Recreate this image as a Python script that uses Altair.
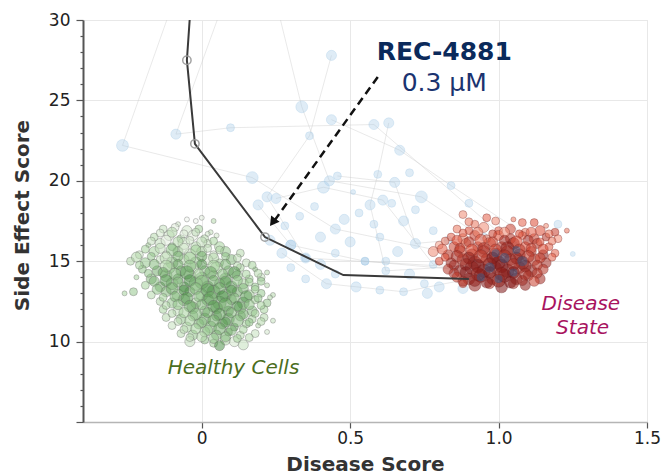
import altair as alt
import pandas as pd

# ---------------- data ----------------
# Healthy cells cluster (green)
healthy_x = [-0.05, -0.02, 0.00, 0.04, -0.08,
             -0.13, -0.09, -0.05, -0.01, 0.03,
             -0.16, -0.11, -0.07, -0.03, 0.01, 0.05,
             -0.18, -0.14, -0.10, -0.06, -0.02, 0.02, 0.06,
             -0.21, -0.16, -0.12, -0.08, -0.04, 0.00, 0.04, 0.08, 0.13,
             -0.24, -0.19, -0.14, -0.10, -0.06, -0.02, 0.02, 0.06, 0.10, 0.15,
             -0.20, -0.15, -0.11, -0.07, -0.03, 0.01, 0.05, 0.09, 0.13, 0.18, 0.22,
             -0.22, -0.17, -0.12, -0.08, -0.04, 0.00, 0.04, 0.08, 0.12, 0.16, 0.20,
             -0.19, -0.14, -0.10, -0.06, -0.02, 0.02, 0.06, 0.10, 0.14, 0.18, 0.22,
             -0.26, -0.23, -0.17, -0.12, -0.08, -0.04, 0.00, 0.04, 0.08, 0.12, 0.16, 0.20, 0.24,
             -0.14, -0.10, -0.06, -0.02, 0.02, 0.06, 0.10, 0.14, 0.18, 0.22,
             -0.13, -0.08, -0.03, 0.01, 0.05, 0.09, 0.13, 0.17, 0.21,
             -0.12, -0.07, -0.03, 0.01, 0.05, 0.09, 0.13, 0.17, 0.21, 0.24,
             -0.10, -0.05, -0.01, 0.03, 0.07, 0.11, 0.15, 0.19,
             -0.07, -0.03, 0.01, 0.05, 0.09, 0.13, 0.18, 0.22,
             -0.04, 0.01, 0.04, 0.08, 0.11, 0.06, 0.14,
             -0.14, -0.10, -0.06, -0.02, 0.02,
             -0.17, -0.12, -0.08, -0.04, 0.00, 0.04,
             -0.19, -0.14, -0.10, -0.06, -0.02, 0.02, 0.06,
             -0.22, -0.17, -0.12, -0.08, -0.04, 0.00, 0.04, 0.08, 0.12,
             -0.21, -0.16, -0.12, -0.08, -0.04, 0.00, 0.04, 0.08, 0.12, 0.17,
             -0.18, -0.13, -0.09, -0.05, -0.01, 0.03, 0.07, 0.11, 0.15, 0.19,
             -0.16, -0.12, -0.08, -0.04, 0.00, 0.04, 0.08, 0.12, 0.16, 0.20,
             -0.15, -0.10, -0.06, -0.02, 0.02, 0.06, 0.10, 0.14, 0.18,
             -0.13, -0.09, -0.05, -0.01, 0.03, 0.07, 0.11, 0.15, 0.19, 0.23,
             -0.12, -0.08, -0.04, 0.00, 0.04, 0.08, 0.12, 0.16, 0.20,
             -0.10, -0.06, -0.02, 0.02, 0.06, 0.10, 0.14, 0.18,
             -0.08, -0.04, 0.00, 0.04, 0.08, 0.12, 0.16, 0.20,
             -0.06, -0.02, 0.02, 0.06, 0.10, 0.14,
             -0.04, 0.00, 0.04, 0.08, 0.12, 0.16]
healthy_y = [17.6, 17.5, 17.7, 17.5, 17.3,
             17.0, 17.1, 16.9, 17.0, 16.8,
             16.5, 16.6, 16.4, 16.6, 16.4, 16.6,
             16.0, 16.1, 15.9, 16.1, 15.9, 16.1, 15.9,
             15.4, 15.6, 15.4, 15.6, 15.4, 15.6, 15.4, 15.6, 15.5,
             15.0, 14.9, 15.1, 14.9, 15.1, 14.9, 15.1, 14.9, 15.1, 14.9,
             14.5, 14.4, 14.6, 14.4, 14.6, 14.4, 14.6, 14.4, 14.6, 14.5, 14.3,
             14.0, 13.9, 14.1, 13.9, 14.1, 13.9, 14.1, 13.9, 14.1, 13.9, 14.0,
             13.5, 13.4, 13.6, 13.4, 13.6, 13.4, 13.6, 13.4, 13.6, 13.4, 13.5,
             13.0, 13.1, 12.9, 13.1, 12.9, 13.1, 12.9, 13.1, 12.9, 13.1, 12.9, 13.0, 12.9,
             12.5, 12.4, 12.6, 12.4, 12.6, 12.4, 12.6, 12.4, 12.6, 12.4,
             12.0, 11.9, 12.1, 11.9, 12.1, 11.9, 12.1, 11.9, 12.0,
             11.5, 11.4, 11.6, 11.4, 11.6, 11.4, 11.6, 11.4, 11.5, 11.3,
             11.0, 10.9, 11.1, 10.9, 11.1, 10.9, 11.1, 11.0,
             10.5, 10.4, 10.6, 10.4, 10.6, 10.4, 10.5, 10.6,
             10.0, 10.1, 9.9, 10.1, 10.0, 9.75, 9.8,
             16.75, 16.8, 16.7, 16.8, 16.7,
             16.25, 16.3, 16.2, 16.3, 16.2, 16.25,
             15.75, 15.8, 15.7, 15.8, 15.7, 15.8, 15.7,
             15.25, 15.3, 15.2, 15.3, 15.2, 15.3, 15.2, 15.3, 15.2,
             14.75, 14.8, 14.7, 14.8, 14.7, 14.8, 14.7, 14.8, 14.7, 14.75,
             14.25, 14.3, 14.2, 14.3, 14.2, 14.3, 14.2, 14.3, 14.2, 14.25,
             13.75, 13.8, 13.7, 13.8, 13.7, 13.8, 13.7, 13.8, 13.7, 13.75,
             13.25, 13.3, 13.2, 13.3, 13.2, 13.3, 13.2, 13.3, 13.25,
             12.75, 12.8, 12.7, 12.8, 12.7, 12.8, 12.7, 12.8, 12.7, 12.75,
             12.25, 12.3, 12.2, 12.3, 12.2, 12.3, 12.2, 12.3, 12.25,
             11.75, 11.8, 11.7, 11.8, 11.7, 11.8, 11.7, 11.75,
             11.25, 11.3, 11.2, 11.3, 11.2, 11.3, 11.2, 11.25,
             10.75, 10.8, 10.7, 10.8, 10.7, 10.75,
             10.25, 10.3, 10.2, 10.3, 10.2, 10.25]
healthy_w = [1, 1, 1, 1, 1,
             2, 2, 3, 2, 1,
             2, 3, 2, 3, 2, 1,
             1, 3, 2, 4, 3, 2, 3,
             2, 3, 2, 3, 4, 3, 2, 3, 2,
             2, 3, 2, 4, 3, 4, 3, 2, 3, 2,
             2, 3, 4, 3, 4, 3, 4, 3, 2, 1, 1,
             1, 3, 4, 3, 4, 5, 3, 4, 3, 2, 2,
             2, 3, 4, 3, 5, 4, 3, 4, 3, 2, 1,
             1, 2, 2, 3, 4, 3, 4, 5, 4, 3, 3, 2, 1,
             2, 3, 4, 3, 4, 5, 3, 4, 2, 2,
             2, 3, 4, 3, 4, 3, 4, 3, 2,
             2, 3, 3, 4, 3, 4, 3, 2, 2, 1,
             2, 3, 3, 4, 3, 2, 2, 1,
             2, 3, 3, 3, 2, 2, 2, 1,
             3, 2, 2, 3, 3, 3, 3,
             2, 3, 2, 2, 1,
             2, 3, 3, 2, 3, 2,
             2, 3, 4, 3, 3, 2, 2,
             3, 2, 4, 3, 4, 3, 3, 2, 2,
             2, 3, 4, 3, 4, 3, 4, 3, 2, 2,
             2, 3, 4, 5, 3, 4, 3, 4, 2, 2,
             3, 4, 3, 4, 5, 3, 4, 3, 2, 2,
             3, 4, 3, 4, 5, 4, 3, 3, 2,
             2, 3, 4, 3, 5, 4, 3, 4, 2, 1,
             2, 3, 4, 3, 4, 5, 3, 3, 2,
             2, 3, 4, 3, 4, 3, 3, 2,
             2, 3, 3, 4, 3, 4, 2, 2,
             2, 3, 3, 4, 3, 2,
             2, 3, 3, 3, 2, 2]
healthy_lvl = [0.0, 0.0, 0.1, 0.4, 0.2,
               0.3, 0.1, 0.2, 0.5, 0.3,
               0.4, 0.2, 0.5, 0.1, 0.4, 0.2,
               0.5, 0.3, 0.6, 0.2, 0.4, 0.3, 0.5,
               0.3, 0.5, 0.2, 0.7, 0.3, 0.5, 0.2, 0.6, 0.4,
               0.4, 0.6, 0.3, 0.7, 0.4, 0.6, 0.2, 0.5, 0.7, 0.3,
               0.6, 0.8, 0.5, 0.8, 0.3, 0.6, 0.4, 0.7, 0.5, 0.6, 0.4,
               0.5, 0.7, 0.6, 0.9, 0.4, 0.7, 0.5, 0.8, 0.6, 0.5, 0.3,
               0.5, 0.8, 0.6, 0.9, 0.5, 0.8, 0.6, 0.9, 0.5, 0.6, 0.4,
               0.5, 0.6, 0.4, 0.7, 0.5, 0.8, 0.6, 0.9, 0.7, 0.8, 0.5, 0.6, 0.4,
               0.4, 0.6, 0.8, 0.5, 0.9, 0.7, 0.8, 0.9, 0.5, 0.6,
               0.5, 0.3, 0.7, 0.6, 0.8, 0.9, 0.6, 0.7, 0.5,
               0.4, 0.6, 0.5, 0.8, 0.7, 0.9, 0.6, 0.5, 0.4, 0.3,
               0.3, 0.5, 0.7, 0.6, 0.8, 0.9, 0.5, 0.4,
               0.4, 0.6, 0.5, 0.7, 0.8, 0.4, 0.3, 0.2,
               0.3, 0.6, 0.5, 0.4, 0.2, 1.0, 0.3,
               0.2, 0.4, 0.1, 0.3, 0.2,
               0.3, 0.1, 0.4, 0.2, 0.3, 0.5,
               0.5, 0.3, 0.6, 0.2, 0.5, 0.3, 0.4,
               0.4, 0.6, 0.3, 0.7, 0.5, 0.8, 0.4, 0.6, 0.3,
               0.5, 0.7, 0.4, 0.8, 0.6, 0.9, 0.5, 0.7, 0.4, 0.5,
               0.6, 0.8, 0.7, 0.9, 0.5, 0.8, 0.6, 0.9, 0.5, 0.4,
               0.7, 0.9, 0.6, 1.0, 0.7, 0.8, 0.9, 0.6, 0.5, 0.6,
               0.6, 0.8, 1.0, 0.7, 0.9, 0.8, 0.9, 0.7, 0.5,
               0.5, 0.7, 0.9, 0.6, 0.8, 1.0, 0.7, 0.9, 0.6, 0.4,
               0.4, 0.6, 0.8, 0.7, 0.9, 0.8, 1.0, 0.6, 0.5,
               0.4, 0.5, 0.7, 0.8, 0.9, 0.7, 0.8, 0.5,
               0.3, 0.5, 0.6, 0.8, 0.9, 0.7, 0.6, 0.4,
               0.3, 0.5, 0.6, 0.8, 0.7, 0.5,
               0.3, 0.4, 0.6, 0.7, 0.5, 0.4]

# Disease state cluster (red)
disease_x = [0.88, 0.96, 1.05, 1.12, 1.16, 0.92,
             0.86, 0.90, 0.95, 1.00, 1.04, 1.09, 1.14, 1.19, 1.23,
             0.84, 0.88, 0.92, 0.96, 1.00, 1.04, 1.08, 1.12, 1.16, 1.20,
             0.80, 0.85, 0.89, 0.93, 0.97, 1.01, 1.05, 1.09, 1.13, 1.17,
             0.78, 0.83, 0.87, 0.91, 0.95, 0.99, 1.03, 1.07, 1.11, 1.15, 1.19,
             0.80, 0.84, 0.88, 0.92, 0.96, 1.00, 1.04, 1.08, 1.12, 1.16,
             0.83, 0.87, 0.91, 0.95, 0.99, 1.03, 1.07, 1.11, 1.15,
             0.86, 0.90, 0.94, 0.98, 1.02, 1.06, 1.10, 1.14,
             0.92, 0.97, 1.01, 1.05, 1.09, 0.88,
             0.90, 0.99, 1.08,
             0.88, 0.93, 0.98, 1.02, 1.07, 1.11, 1.17,
             0.82, 0.86, 0.90, 0.94, 0.98, 1.02, 1.06, 1.10, 1.14, 1.18,
             0.81, 0.87, 0.91, 0.95, 0.99, 1.03, 1.07, 1.11, 1.15,
             0.82, 0.86, 0.90, 0.94, 0.98, 1.02, 1.06, 1.10, 1.14, 1.18,
             0.85, 0.89, 0.93, 0.97, 1.01, 1.05, 1.09, 1.13,
             0.85, 0.89, 0.93, 0.97, 1.01, 1.05, 1.09, 1.13,
             0.88, 0.92, 0.96, 1.00, 1.04, 1.08, 1.12]
disease_y = [17.9, 17.7, 17.6, 17.4, 17.2, 17.3,
             17.0, 16.9, 17.1, 16.9, 17.0, 16.8, 16.9, 16.8, 16.9,
             16.5, 16.4, 16.6, 16.4, 16.6, 16.4, 16.6, 16.4, 16.5, 16.4,
             16.0, 15.9, 16.1, 15.9, 16.1, 15.9, 16.1, 15.9, 16.1, 15.9,
             15.6, 15.4, 15.6, 15.4, 15.6, 15.4, 15.6, 15.4, 15.6, 15.4, 15.5,
             15.0, 14.9, 15.1, 14.9, 15.1, 14.9, 15.1, 14.9, 15.1, 14.9,
             14.5, 14.4, 14.6, 14.4, 14.6, 14.4, 14.6, 14.4, 14.5,
             14.0, 13.9, 14.1, 13.9, 14.1, 13.9, 14.1, 13.9,
             13.5, 13.6, 13.4, 13.6, 13.5, 13.6,
             17.45, 17.5, 17.4,
             16.75, 16.8, 16.7, 16.8, 16.7, 16.8, 16.7,
             16.25, 16.3, 16.2, 16.3, 16.2, 16.3, 16.2, 16.3, 16.2, 16.25,
             15.75, 15.8, 15.7, 15.8, 15.7, 15.8, 15.7, 15.8, 15.75,
             15.25, 15.3, 15.2, 15.3, 15.2, 15.3, 15.2, 15.3, 15.2, 15.25,
             14.75, 14.8, 14.7, 14.8, 14.7, 14.8, 14.7, 14.75,
             14.25, 14.3, 14.2, 14.3, 14.2, 14.3, 14.2, 14.25,
             13.75, 13.8, 13.7, 13.8, 13.7, 13.8, 13.75]
disease_w = [2, 2, 1, 2, 1, 2,
             2, 2, 3, 2, 3, 2, 3, 2, 1,
             2, 3, 3, 2, 3, 3, 2, 3, 2, 2,
             2, 3, 3, 3, 4, 3, 4, 3, 3, 2,
             3, 3, 4, 4, 4, 5, 4, 4, 3, 3, 2,
             2, 3, 4, 5, 4, 5, 4, 5, 4, 3,
             3, 4, 5, 5, 4, 5, 4, 4, 3,
             3, 4, 5, 4, 5, 4, 3, 3,
             4, 3, 4, 3, 3, 2,
             2, 2, 2,
             2, 3, 2, 3, 2, 3, 2,
             2, 3, 3, 4, 3, 3, 4, 3, 2, 2,
             3, 3, 4, 4, 4, 5, 4, 3, 3,
             2, 4, 4, 5, 4, 5, 4, 4, 3, 2,
             3, 4, 5, 5, 5, 4, 4, 3,
             3, 4, 5, 4, 5, 4, 4, 3,
             3, 4, 4, 5, 4, 3, 3]
disease_lvl = [0.2, 0.4, 0.3, 0.5, 0.2, 0.3,
               0.3, 0.5, 0.2, 0.4, 0.6, 0.3, 0.5, 0.6, 0.3,
               0.4, 0.2, 0.6, 0.3, 0.5, 0.7, 0.4, 0.6, 0.7, 0.2,
               0.1, 0.6, 0.3, 0.7, 0.4, 0.6, 0.8, 0.5, 0.7, 0.4,
               0.2, 0.7, 0.5, 0.8, 0.6, 0.9, 0.7, 0.8, 0.6, 0.9, 0.4,
               0.5, 0.8, 0.6, 0.9, 0.7, 1.0, 0.8, 0.9, 0.7, 0.8,
               0.7, 0.9, 0.8, 1.0, 0.9, 1.0, 0.8, 0.9, 0.7,
               0.6, 0.9, 1.0, 0.8, 1.0, 0.9, 0.7, 0.8,
               0.9, 0.7, 1.0, 0.8, 0.9, 0.5,
               0.3, 0.2, 0.4,
               0.4, 0.3, 0.6, 0.2, 0.5, 0.4, 0.3,
               0.3, 0.5, 0.7, 0.4, 0.6, 0.8, 0.5, 0.7, 0.4, 0.3,
               0.4, 0.7, 0.5, 0.8, 0.6, 0.9, 0.7, 0.6, 0.5,
               0.5, 0.8, 0.9, 0.7, 1.0, 0.8, 0.9, 0.7, 0.6, 0.4,
               0.8, 0.9, 1.0, 0.9, 1.0, 0.8, 0.9, 0.7,
               0.7, 1.0, 0.9, 1.0, 0.9, 1.0, 0.8, 0.7,
               0.8, 0.9, 1.0, 0.9, 1.0, 0.8, 0.6]

# Treated cells sitting inside the disease cluster (dark blue)
treated_x = [0.97, 1.02, 1.05, 0.94, 1.08, 1.00, 0.99, 1.06]
treated_y = [14.6, 15.2, 14.3, 14.0, 15.0, 13.9, 15.5, 15.7]
treated_w = [3, 3, 2, 2, 3, 2, 2, 2]

# Faint dose trajectories (light blue nodes joined by grey lines)
traj_id = [1] * 5 + [2] * 5 + [3] * 5 + [4] * 5 + [5] * 4 + [6] * 5 + [7] * 4 + [8] * 5 + [9] * 4 + [10] * 4
traj_x = [-0.11, -0.267, 0.17, 0.45, 0.92,
          0.06, -0.087, 0.097, 0.58, 1.05,
          0.26, 0.337, 0.43, 0.74, 1.00,
          0.437, 0.363, 0.22, 0.35, 0.90,
          0.437, 0.667, 0.84, 1.10,
          0.63, 0.593, 0.567, 0.62, 0.98,
          0.19, 0.30, 0.55, 0.85,
          0.25, 0.41, 0.61, 0.78, 1.02,
          0.457, 0.65, 0.72, 0.95,
          0.27, 0.42, 0.68, 0.93]
traj_y = [30.4, 22.2, 20.2, 17.0, 15.2,
          30.4, 22.9, 23.3, 23.5, 16.0,
          30.4, 24.6, 20.0, 19.0, 15.8,
          27.8, 22.8, 19.0, 15.2, 14.6,
          23.8, 21.9, 19.7, 16.5,
          23.6, 20.4, 18.5, 14.4, 14.8,
          18.5, 16.0, 15.0, 14.5,
          18.9, 19.6, 18.8, 14.8, 15.0,
          20.3, 19.9, 16.1, 16.5,
          15.5, 13.6, 13.1, 14.0]
traj_w = [1, 4, 4, 3, 2,
          1, 3, 2, 3, 2,
          1, 4, 3, 4, 2,
          3, 2, 3, 3, 2,
          3, 3, 2, 2,
          3, 2, 3, 2, 2,
          3, 3, 2, 2,
          3, 4, 3, 2, 2,
          2, 3, 3, 2,
          3, 3, 2, 2]

# Loose light-blue cells
loose_x = [0.30, 0.35, 0.40, 0.45, 0.50, 0.55, 0.60, 0.66, 0.70, 0.75, 0.80, 0.83, 0.85, 0.88,
           0.30, 0.35, 0.52, 0.60, 0.76, 0.23, 0.28, 0.33, 0.38, 0.48, 0.53, 0.58, 0.68, 0.72,
           0.64, 0.70, 0.51, 1.25, 1.20, 0.78, 0.90, 0.62, 0.45, 0.40]
loose_y = [16.0, 15.2, 16.5, 15.5, 16.2, 15.0, 16.5, 15.6, 14.2, 13.6, 13.4, 16.3, 14.3, 13.3,
           14.6, 13.9, 13.4, 13.2, 13.0, 16.3, 17.2, 17.8, 18.4, 17.6, 18.0, 17.3, 17.5, 18.2,
           18.6, 20.5, 19.3, 15.45, 17.3, 16.9, 18.6, 15.0, 14.2, 14.8]
loose_w = [3, 2, 3, 2, 3, 2, 2, 3, 3, 2, 3, 2, 2, 3,
           2, 2, 3, 2, 3, 3, 2, 2, 2, 3, 2, 2, 3, 2,
           2, 2, 1, 1, 2, 2, 2, 2, 2, 3]

# REC-4881 dose-response path (dark line)
path_x = [-0.037, -0.05, -0.023, 0.213, 0.477, 0.90]
path_y = [31.0, 27.5, 22.3, 16.5, 14.14, 13.9]
node_x = [-0.05, -0.023, 0.213]
node_y = [27.5, 22.3, 16.5]

# Annotations (data units)
arrow_x = [0.593, 0.246]
arrow_y = [26.46, 17.55]
arrowhead_x = [0.242]
arrowhead_y = [17.50]
compound_name = ["REC-4881"]
compound_dose = ["0.3 µM"]
compound_x = [0.817]
compound_name_y = [28.0]
compound_dose_y = [26.1]
healthy_label = ["Healthy Cells"]
healthy_label_x = [0.107]
healthy_label_y = [8.36]
disease_label = ["Disease", "State"]
disease_label_x = [1.277, 1.283]
disease_label_y = [12.34, 10.85]

x_ticks = [0, 0.5, 1.0, 1.5]
y_ticks = list(range(5, 31))

# ---------------- chart ----------------
FONT = "DejaVu Sans"

def X():
    return alt.X("x:Q",
                 scale=alt.Scale(domain=[-0.4, 1.5], nice=False, zero=False),
                 axis=alt.Axis(values=x_ticks, title="Disease Score",
                               labelExpr="datum.value == 0 ? '0' : format(datum.value, '.1f')",
                               grid=True, gridColor="#e8e8e8", gridWidth=1,
                               domainColor="#b5b5b5", domainWidth=1.5,
                               tickColor="#555555", tickSize=6, tickWidth=1.2,
                               labelFont=FONT, labelFontSize=17, labelColor="#222222",
                               labelPadding=2, labelFlush=False,
                               titleFont=FONT, titleFontSize=20, titleFontWeight="bold",
                               titleColor="#333333", titlePadding=8))

def Y():
    return alt.Y("y:Q",
                 scale=alt.Scale(domain=[5, 30], nice=False, zero=False),
                 axis=alt.Axis(values=y_ticks, title="Side Effect Score",
                               labelExpr="datum.value % 5 === 0 && datum.value > 5 ? datum.label : ''",
                               grid=True, gridColor="#e8e8e8", gridWidth=1,
                               gridOpacity={"condition": {"test": "datum.value % 5 === 0 && datum.value > 5", "value": 1}, "value": 0},
                               domainColor="#555555", domainWidth=2,
                               tickColor="#555555", tickWidth=1.2,
                               tickSize={"condition": {"test": "datum.value % 5 === 0", "value": 7}, "value": 3},
                               labelFont=FONT, labelFontSize=17, labelColor="#222222",
                               labelPadding=6, labelFlush=False,
                               titleFont=FONT, titleFontSize=20, titleFontWeight="bold",
                               titleColor="#333333", titlePadding=16, titleY=195))

size_scale = alt.Scale(domain=[1, 5], range=[25, 180])

traj_df = pd.DataFrame({"x": traj_x, "y": traj_y, "traj": traj_id,
                        "step": list(range(len(traj_x))), "w": traj_w})
loose_df = pd.DataFrame({"x": loose_x, "y": loose_y, "w": loose_w})
blue_df = pd.concat([traj_df[["x", "y", "w"]], loose_df], ignore_index=True)
healthy_df = pd.DataFrame({"x": healthy_x, "y": healthy_y, "w": healthy_w, "h_lvl": healthy_lvl})
disease_df = pd.DataFrame({"x": disease_x, "y": disease_y, "w": disease_w, "d_lvl": disease_lvl})
treated_df = pd.DataFrame({"x": treated_x, "y": treated_y, "w": treated_w})
path_df = pd.DataFrame({"x": path_x, "y": path_y, "step": list(range(len(path_x)))})
node_df = pd.DataFrame({"x": node_x, "y": node_y})
arrow_df = pd.DataFrame({"x": arrow_x, "y": arrow_y, "step": [0, 1]})
head_df = pd.DataFrame({"x": arrowhead_x, "y": arrowhead_y})

traj_lines = alt.Chart(traj_df).mark_line(color="#c8c8c8", strokeWidth=1, opacity=0.4, clip=True).encode(
    x=X(), y=Y(), detail="traj:N", order="step:Q")

blue_pts = alt.Chart(blue_df).mark_circle(color="#a3c8e6", fillOpacity=0.35, stroke="#a3c8e6",
                                          strokeOpacity=0.4, strokeWidth=0.8, clip=True).encode(
    x=X(), y=Y(), size=alt.Size("w:Q", scale=size_scale, legend=None))

healthy_pts = alt.Chart(healthy_df).mark_circle(fillOpacity=0.5, stroke="#666666", strokeOpacity=0.45,
                                                strokeWidth=0.8, clip=True).encode(
    x=X(), y=Y(), size=alt.Size("w:Q", scale=size_scale, legend=None),
    color=alt.Color("h_lvl:Q", scale=alt.Scale(domain=[0, 0.5, 1], range=["#eef3ec", "#9fcf95", "#3f8a3c"]),
                    legend=None))

disease_pts = alt.Chart(disease_df).mark_circle(fillOpacity=0.55, stroke="#6b1f1f", strokeOpacity=0.4,
                                                strokeWidth=0.8, clip=True).encode(
    x=X(), y=Y(), size=alt.Size("w:Q", scale=size_scale, legend=None),
    color=alt.Color("d_lvl:Q", scale=alt.Scale(domain=[0, 0.5, 1], range=["#f7b2a0", "#dd4a33", "#7d1414"]),
                    legend=None))

treated_pts = alt.Chart(treated_df).mark_circle(color="#2c5d8f", fillOpacity=0.45, strokeOpacity=0,
                                                clip=True).encode(
    x=X(), y=Y(), size=alt.Size("w:Q", scale=size_scale, legend=None))

path_line = alt.Chart(path_df).mark_line(color="#3a3a3a", strokeWidth=2, clip=True).encode(
    x=X(), y=Y(), order="step:Q")

path_nodes = alt.Chart(node_df).mark_point(filled=False, stroke="#999999", strokeWidth=1.5, size=70,
                                           opacity=0.9).encode(x=X(), y=Y())

arrow_line = alt.Chart(arrow_df).mark_line(color="#111111", strokeWidth=2.5, strokeDash=[8, 5]).encode(
    x=X(), y=Y(), order="step:Q")

arrow_head = alt.Chart(head_df).mark_point(shape="triangle", filled=True, color="#111111", size=110,
                                           angle=216, opacity=1).encode(x=X(), y=Y())

name_txt = alt.Chart(pd.DataFrame({"x": compound_x, "y": compound_name_y, "t": compound_name})).mark_text(
    font=FONT, fontSize=25, fontWeight="bold", color="#0b2a5b", baseline="middle", align="center").encode(
    x=X(), y=Y(), text="t:N")

dose_txt = alt.Chart(pd.DataFrame({"x": compound_x, "y": compound_dose_y, "t": compound_dose})).mark_text(
    font=FONT, fontSize=25, color="#1b3370", baseline="middle", align="center").encode(
    x=X(), y=Y(), text="t:N")

healthy_txt = alt.Chart(pd.DataFrame({"x": healthy_label_x, "y": healthy_label_y, "t": healthy_label})).mark_text(
    font=FONT, fontSize=20, fontStyle="italic", color="#4b6e1e", baseline="middle", align="center").encode(
    x=X(), y=Y(), text="t:N")

disease_txt = alt.Chart(pd.DataFrame({"x": disease_label_x, "y": disease_label_y, "t": disease_label})).mark_text(
    font=FONT, fontSize=20, fontStyle="italic", color="#a8145f", baseline="middle", align="center").encode(
    x=X(), y=Y(), text="t:N")

chart = alt.layer(
    traj_lines, blue_pts, healthy_pts, disease_pts, treated_pts,
    path_line, path_nodes, arrow_line, arrow_head,
    name_txt, dose_txt, healthy_txt, disease_txt
).resolve_scale(color="independent").properties(
    width=564, height=402, autosize="none",
    padding={"left": 83, "top": 20, "right": 14, "bottom": 53}
).configure_view(stroke=None).configure(background="white")

chart.save("out.html", embed_options={"renderer": "svg", "actions": False})
